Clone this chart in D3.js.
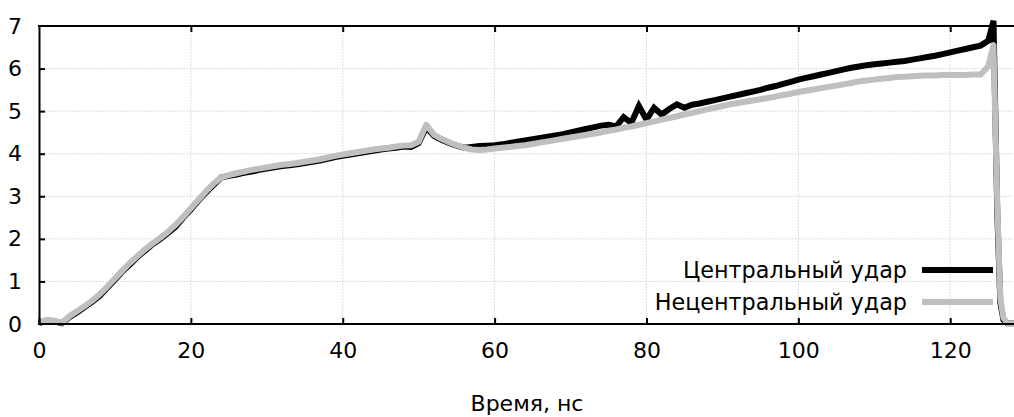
<!DOCTYPE html>
<html>
<head>
<meta charset="utf-8">
<script src="https://cdn.jsdelivr.net/npm/d3@7"></script>
<style>
  html, body { margin: 0; padding: 0; background: #fff; }
  svg { display: block; }
  text { font-family: "DejaVu Sans", sans-serif; fill: #000; }
</style>
</head>
<body>
<svg id="chart" width="1014" height="417"></svg>
<script>
// Time axis, ns
const timeNs = [
  0,1,2,3,4,5,6,7,8,9,10,11,12,13,14,15,16,17,18,19,
  20,21,22,23,24,25,26,27,28,29,30,31,32,33,34,35,36,37,38,39,
  40,41,42,43,44,45,46,47,48,49,50,51,52,53,54,55,56,57,58,59,
  60,61,62,63,64,65,66,67,68,69,70,71,72,73,74,75,76,77,78,79,
  80,81,82,83,84,85,86,87,88,89,90,91,92,93,94,95,96,97,98,99,
  100,101,102,103,104,105,106,107,108,109,110,111,112,113,114,115,116,117,118,119,
  120,121,122,123,124,125,125.7,126.2,126.6,127,127.5,128.5
];

// Central impact
const centralImpact = [
  0.02,0.08,0.06,0.02,0.16,0.27,0.40,0.52,0.66,0.85,1.04,1.24,1.40,1.58,1.73,1.88,2.00,2.14,2.29,2.50,
  2.69,2.90,3.09,3.27,3.44,3.48,3.51,3.55,3.58,3.62,3.65,3.68,3.71,3.73,3.75,3.78,3.81,3.84,3.88,3.92,
  3.95,3.98,4.01,4.04,4.07,4.10,4.12,4.14,4.17,4.16,4.25,4.62,4.42,4.33,4.25,4.19,4.14,4.16,4.18,4.19,
  4.20,4.22,4.25,4.28,4.31,4.34,4.37,4.40,4.43,4.46,4.50,4.54,4.58,4.62,4.66,4.68,4.64,4.86,4.72,5.12,
  4.80,5.08,4.92,5.05,5.16,5.08,5.15,5.18,5.22,5.26,5.30,5.34,5.38,5.42,5.46,5.50,5.55,5.59,5.64,5.69,
  5.74,5.78,5.82,5.86,5.90,5.94,5.98,6.02,6.05,6.08,6.10,6.12,6.14,6.16,6.18,6.21,6.24,6.27,6.30,6.34,
  6.38,6.42,6.46,6.50,6.54,6.65,7.12,2.60,0.50,0.10,0.02,0.02
];

// Off-centre impact
const offCenterImpact = [
  0.03,0.10,0.08,0.03,0.18,0.30,0.42,0.55,0.70,0.88,1.07,1.26,1.44,1.60,1.76,1.90,2.03,2.17,2.33,2.52,
  2.72,2.92,3.12,3.30,3.44,3.50,3.54,3.58,3.62,3.65,3.68,3.71,3.74,3.76,3.78,3.81,3.84,3.87,3.91,3.95,
  3.98,4.01,4.04,4.07,4.10,4.12,4.14,4.17,4.19,4.20,4.28,4.68,4.45,4.35,4.27,4.20,4.14,4.10,4.09,4.10,
  4.12,4.14,4.16,4.18,4.20,4.23,4.26,4.29,4.32,4.35,4.38,4.41,4.44,4.47,4.50,4.54,4.57,4.61,4.64,4.68,
  4.72,4.76,4.80,4.84,4.88,4.92,4.96,5.00,5.04,5.08,5.12,5.16,5.19,5.22,5.25,5.28,5.31,5.34,5.38,5.41,
  5.45,5.48,5.51,5.54,5.57,5.60,5.63,5.66,5.70,5.72,5.74,5.76,5.78,5.80,5.81,5.82,5.83,5.84,5.84,5.85,
  5.85,5.85,5.85,5.86,5.86,6.05,6.55,2.80,0.60,0.15,0.02,0.02
];

const xTicks = [0, 20, 40, 60, 80, 100, 120];
const yTicks = [0, 1, 2, 3, 4, 5, 6, 7];
const seriesNames = ["Центральный удар", "Нецентральный удар"];
const xTitle = "Время, нс";

const margin = { left: 39, right: 0, top: 26, bottom: 93 };
const W = 1014, H = 417;
const fontSize = 22;
const svg = d3.select("#chart");

const x = d3.scaleLinear().domain([0, 128.4]).range([margin.left, W - margin.right]);
const y = d3.scaleLinear().domain([0, 7]).range([H - margin.bottom, margin.top]);

// dotted grid
const grid = svg.append("g").attr("stroke", "#dddddd").attr("stroke-width", 1).attr("stroke-dasharray", "2,1");
grid.selectAll("line.gx").data(xTicks.filter(d => d > 0)).join("line")
  .attr("x1", d => x(d)).attr("x2", d => x(d))
  .attr("y1", y(0)).attr("y2", y(7));
grid.selectAll("line.gy").data(yTicks.filter(d => d > 0 && d < 7)).join("line")
  .attr("x1", x(0)).attr("x2", W)
  .attr("y1", d => y(d)).attr("y2", d => y(d));

// series
const line = d3.line().x((d, i) => x(timeNs[i])).y(d => y(d));
svg.append("path").datum(centralImpact)
  .attr("d", line).attr("fill", "none").attr("stroke", "#000")
  .attr("stroke-width", 6).attr("stroke-linejoin", "miter").attr("stroke-miterlimit", 6);
svg.append("path").datum(offCenterImpact)
  .attr("d", line).attr("fill", "none").attr("stroke", "#bfbfbf")
  .attr("stroke-width", 6).attr("stroke-linejoin", "round");

// axes: ticks pointing inward, top border mirrored
const axisStyle = g => {
  g.select(".domain").attr("stroke", "#000").attr("stroke-width", 2);
  g.selectAll(".tick line").attr("stroke", "#000").attr("stroke-width", 2);
  g.selectAll(".tick text").attr("font-size", fontSize).attr("font-family", "DejaVu Sans, sans-serif");
};

svg.append("g").attr("transform", `translate(0,${y(0)})`)
  .call(d3.axisBottom(x).tickValues(xTicks).tickFormat(d3.format("d"))
    .tickSizeInner(-6).tickSizeOuter(0).tickPadding(18))
  .call(axisStyle)
  .call(g => g.select(".domain").attr("d", `M${x(0) - 1},0H${W}`));

svg.append("g").attr("transform", `translate(0,${y(7)})`)
  .call(d3.axisTop(x).tickValues(xTicks.filter(d => d > 0)).tickSizeInner(-6).tickSizeOuter(0).tickFormat(""))
  .call(axisStyle)
  .call(g => g.select(".domain").attr("d", `M${x(0) - 1},0H${W}`));

svg.append("g").attr("transform", `translate(${x(0)},0)`)
  .call(d3.axisLeft(y).tickValues(yTicks).tickFormat(d3.format("d"))
    .tickSizeInner(-6).tickSizeOuter(0).tickPadding(17))
  .call(axisStyle)
  .call(g => g.selectAll(".tick line").filter(d => d === 0 || d === 7).remove());

// axis title
svg.append("text").attr("x", 527).attr("y", 403).attr("dy", "0.35em")
  .attr("text-anchor", "middle").attr("font-size", fontSize).text(xTitle);

// legend
const legend = svg.append("g");
const legendColors = ["#000", "#bfbfbf"];
seriesNames.forEach((name, i) => {
  const ly = 270 + i * 32;
  legend.append("text").attr("x", 907).attr("y", ly).attr("dy", "0.35em")
    .attr("text-anchor", "end").attr("font-size", 22.3).text(name);
  legend.append("line").attr("x1", 922).attr("x2", 993).attr("y1", ly).attr("y2", ly)
    .attr("stroke", legendColors[i]).attr("stroke-width", 6);
});
</script>
</body>
</html>
